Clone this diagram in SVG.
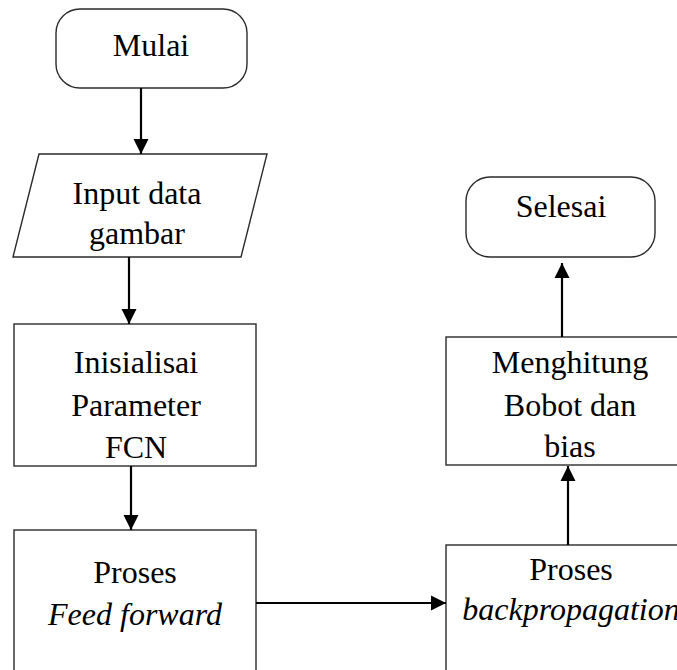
<svg xmlns="http://www.w3.org/2000/svg" width="677" height="670" viewBox="0 0 677 670">
  <style>
    .shape { fill: #ffffff; stroke: #2b2b2b; stroke-width: 1.4; }
    .label { font-family: "Liberation Serif", "Times New Roman", serif; font-size: 32px; fill: #000000; text-anchor: middle; }
    .it { font-style: italic; }
    .conn { fill: none; stroke: #000000; stroke-width: 2.2; }
  </style>
  <defs>
    <marker id="arrow" markerUnits="userSpaceOnUse" markerWidth="16" markerHeight="16" viewBox="0 0 16 16" refX="15" refY="8" orient="auto">
      <path d="M0,0.5 L15,8 L0,15.5 Z" fill="#000000"/>
    </marker>
  </defs>
  <rect width="677" height="670" fill="#ffffff"/>

  <g id="mulai">
    <rect class="shape" x="56" y="9" width="191" height="79" rx="24" ry="24"/>
    <text class="label" x="151" y="56">Mulai</text>
  </g>

  <g id="input-data">
    <polygon class="shape" points="39,154 267,154 241,257 13,257"/>
    <text class="label" x="137" y="204">Input data</text>
    <text class="label" x="137" y="244">gambar</text>
  </g>

  <g id="inisialisasi">
    <rect class="shape" x="14" y="324" width="242" height="142"/>
    <text class="label" x="136" y="373">Inisialisai</text>
    <text class="label" x="136" y="416">Parameter</text>
    <text class="label" x="136" y="458">FCN</text>
  </g>

  <g id="feed-forward">
    <rect class="shape" x="14" y="530" width="242" height="160"/>
    <text class="label" x="135" y="583">Proses</text>
    <text class="label it" x="135" y="625">Feed forward</text>
  </g>

  <g id="backpropagation">
    <rect class="shape" x="446" y="545" width="248" height="145"/>
    <text class="label" x="571" y="580">Proses</text>
    <text class="label it" x="571" y="620">backpropagation</text>
  </g>

  <g id="menghitung">
    <rect class="shape" x="446" y="337" width="248" height="128"/>
    <text class="label" x="570" y="373">Menghitung</text>
    <text class="label" x="570" y="416">Bobot dan</text>
    <text class="label" x="570" y="457">bias</text>
  </g>

  <g id="selesai">
    <rect class="shape" x="466" y="177" width="189" height="80" rx="24" ry="24"/>
    <text class="label" x="561" y="217">Selesai</text>
  </g>

  <g id="connectors">
    <line class="conn" x1="141" y1="88" x2="141" y2="154" marker-end="url(#arrow)"/>
    <line class="conn" x1="129" y1="257" x2="129" y2="324" marker-end="url(#arrow)"/>
    <line class="conn" x1="131" y1="466" x2="131" y2="530" marker-end="url(#arrow)"/>
    <line class="conn" x1="256" y1="603" x2="446" y2="603" marker-end="url(#arrow)"/>
    <line class="conn" x1="568" y1="545" x2="568" y2="466" marker-end="url(#arrow)"/>
    <line class="conn" x1="562" y1="337" x2="562" y2="263" marker-end="url(#arrow)"/>
  </g>
</svg>
